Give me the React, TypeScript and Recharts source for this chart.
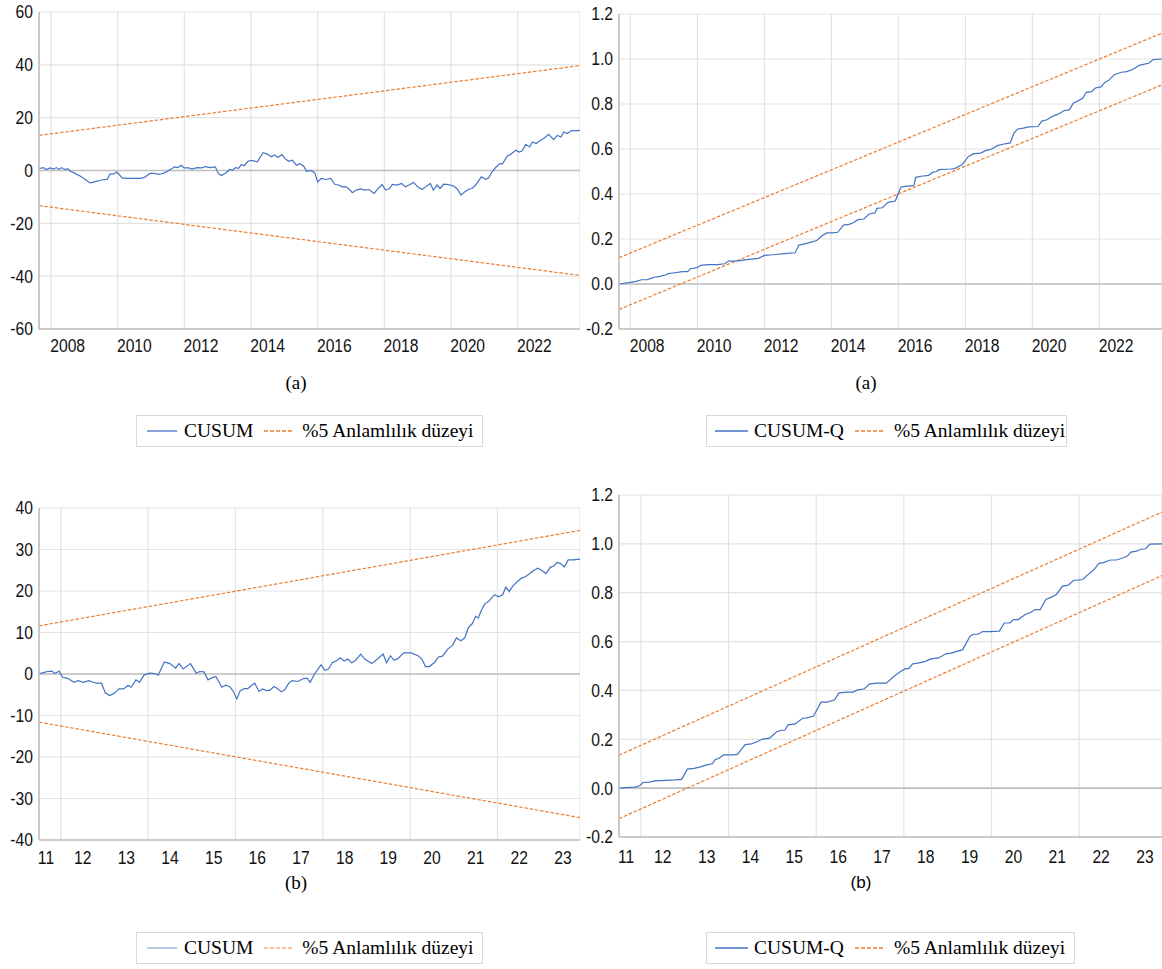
import React from 'react';
import { LineChart, Line, XAxis, YAxis, CartesianGrid, ReferenceLine, Legend } from 'recharts';

const FONT_TICK = '"Liberation Sans", Arial, sans-serif';
const FONT_SERIF = '"Liberation Serif", "Times New Roman", serif';
const BLUE = '#4472C4';
const ORANGE = '#ED7D31';

// ---------- Panel (a) left: CUSUM ----------
const TL_X = [
  2007.64, 2007.78, 2007.86, 2007.97, 2008.08, 2008.16, 2008.24, 2008.32, 2008.41, 2008.52,
  2008.58, 2008.69, 2008.86, 2009.02, 2009.17, 2009.24, 2009.38, 2009.52, 2009.69, 2009.77,
  2009.88, 2009.97, 2010.04, 2010.13, 2010.30, 2010.47, 2010.69, 2010.80, 2010.97, 2011.08,
  2011.24, 2011.41, 2011.58, 2011.71, 2011.80, 2011.91, 2011.99, 2012.13, 2012.24, 2012.38,
  2012.52, 2012.63, 2012.78, 2012.93, 2013.02, 2013.11, 2013.22, 2013.36, 2013.44, 2013.54,
  2013.63, 2013.71, 2013.80, 2013.91, 2014.02, 2014.19, 2014.36, 2014.49, 2014.61, 2014.71,
  2014.80, 2014.93, 2015.02, 2015.13, 2015.24, 2015.36, 2015.47, 2015.58, 2015.67, 2015.80,
  2015.91, 2016.00, 2016.11, 2016.24, 2016.39, 2016.52, 2016.63, 2016.74, 2016.86, 2016.97,
  2017.04, 2017.16, 2017.30, 2017.41, 2017.54, 2017.69, 2017.82, 2017.93, 2018.04, 2018.16,
  2018.24, 2018.38, 2018.52, 2018.63, 2018.74, 2018.88, 2019.00, 2019.13, 2019.24, 2019.38,
  2019.47, 2019.58, 2019.67, 2019.78, 2019.91, 2020.08, 2020.19, 2020.30, 2020.41, 2020.52,
  2020.63, 2020.74, 2020.91, 2021.04, 2021.13, 2021.24, 2021.36, 2021.47, 2021.54, 2021.69,
  2021.80, 2021.94, 2022.04, 2022.13, 2022.24, 2022.36, 2022.44, 2022.56, 2022.67, 2022.80,
  2022.93, 2023.08, 2023.19, 2023.30, 2023.38, 2023.49, 2023.63, 2023.74, 2023.87,
];
const TL_CUSUM = [
  0.75, 1.1, 0.4, 1.0, 0.5, 1.1, 0.4, 1.1, 0.4, 0.6,
  -0.3, -0.9, -2.0, -3.3, -4.7, -4.5, -4.0, -3.6, -3.3, -1.4,
  -1.3, -0.6, -1.4, -2.8, -3.0, -3.0, -3.0, -2.6, -1.1, -1.1,
  -1.5, -0.9, 0.4, 1.4, 1.1, 2.0, 1.0, 1.0, 0.5, 1.1,
  1.0, 1.5, 1.1, 1.4, -1.1, -1.9, -1.1, 0.4, 0.1, 1.1,
  0.8, 2.3, 1.8, 3.5, 3.8, 3.3, 6.7, 6.2, 5.2, 5.9,
  4.9, 6.0, 4.5, 3.5, 3.9, 2.0, 2.6, 1.6, -0.3, 0,
  -0.8, -4.3, -3.0, -3.4, -3.0, -5.3, -5.5, -6.2, -6.2, -7.4,
  -8.4, -7.4, -7.0, -7.4, -7.2, -8.7, -6.8, -5.3, -7.4, -6.8,
  -5.3, -5.5, -4.9, -6.2, -5.5, -4.5, -6.2, -7.2, -6.2, -4.9,
  -7.4, -5.5, -6.8, -5.2, -5.3, -5.9, -7.0, -9.3, -8.1, -7.2,
  -6.8, -5.5, -2.4, -3.3, -2.8, -0.3, 1.4, 2.6, 2.4, 5.5,
  6.2, 7.7, 7.0, 7.4, 9.9, 8.9, 10.8, 10.2, 11.4, 12.3,
  13.7, 11.7, 13.3, 12.7, 14.6, 14.0, 15.2, 15.0, 15.2,
];
const TL_BOUND_X = [2007.64, 2023.87];
const TL_UPPER = [13.3, 39.7];
const TL_LOWER = [-13.3, -39.7];
const TL_Y_TICKS = [-60, -40, -20, 0, 20, 40, 60];

// ---------- Panel (a) right: CUSUM-Q ----------
const TR_X = [
  2007.66, 2008.00, 2008.17, 2008.33, 2008.50, 2008.61, 2008.72, 2008.88, 2009.05, 2009.13,
  2009.33, 2009.55, 2009.71, 2009.79, 2009.99, 2010.10, 2010.32, 2010.60, 2010.82, 2010.93,
  2011.15, 2011.48, 2011.82, 2012.00, 2012.26, 2012.59, 2012.92, 2013.03, 2013.20, 2013.37,
  2013.56, 2013.70, 2013.86, 2014.03, 2014.19, 2014.36, 2014.53, 2014.64, 2014.80, 2014.97,
  2015.13, 2015.30, 2015.36, 2015.52, 2015.69, 2015.91, 2016.00, 2016.08, 2016.19, 2016.46,
  2016.52, 2016.68, 2016.90, 2017.02, 2017.13, 2017.21, 2017.40, 2017.57, 2017.68, 2017.90,
  2018.01, 2018.07, 2018.23, 2018.45, 2018.62, 2018.79, 2018.95, 2019.12, 2019.34, 2019.45,
  2019.56, 2019.73, 2019.89, 2020.17, 2020.28, 2020.44, 2020.56, 2020.78, 2020.94, 2021.11,
  2021.22, 2021.38, 2021.50, 2021.61, 2021.77, 2021.88, 2022.05, 2022.16, 2022.27, 2022.44,
  2022.66, 2022.82, 2022.99, 2023.10, 2023.19, 2023.38, 2023.49, 2023.60, 2023.87,
];
const TR_CUSUMQ = [
  0.0, 0.007, 0.012, 0.019, 0.019, 0.025, 0.03, 0.034, 0.04, 0.046,
  0.05, 0.055, 0.055, 0.068, 0.073, 0.083, 0.086, 0.086, 0.09, 0.102,
  0.102, 0.108, 0.114, 0.127, 0.13, 0.135, 0.139, 0.173, 0.178, 0.185,
  0.193, 0.212, 0.227, 0.227, 0.23, 0.262, 0.265, 0.271, 0.286, 0.289,
  0.311, 0.316, 0.336, 0.339, 0.363, 0.369, 0.404, 0.431, 0.434, 0.437,
  0.474, 0.479, 0.483, 0.496, 0.50, 0.508, 0.51, 0.511, 0.513, 0.53,
  0.55, 0.564, 0.578, 0.582, 0.594, 0.60, 0.615, 0.621, 0.627, 0.671,
  0.689, 0.693, 0.698, 0.70, 0.724, 0.73, 0.742, 0.756, 0.77, 0.775,
  0.804, 0.815, 0.825, 0.852, 0.855, 0.871, 0.876, 0.896, 0.904, 0.93,
  0.941, 0.944, 0.953, 0.963, 0.972, 0.978, 0.982, 0.997, 1.0,
];
const TR_BOUND_X = [2007.66, 2023.87];
const TR_UPPER = [0.117, 1.115];
const TR_LOWER = [-0.113, 0.885];
const Q_Y_TICKS = [-0.2, 0, 0.2, 0.4, 0.6, 0.8, 1.0, 1.2];

const TOP_X_LABELS = [2008.5, 2010.5, 2012.5, 2014.5, 2016.5, 2018.5, 2020.5, 2022.5];
const TOP_X_GRID = [2008, 2010, 2012, 2014, 2016, 2018, 2020, 2022];

// ---------- Panel (b) left: CUSUM ----------
const BL_X = [
  2011.50, 2011.62, 2011.70, 2011.79, 2011.87, 2011.96, 2012.04, 2012.17, 2012.30, 2012.40,
  2012.51, 2012.64, 2012.74, 2012.82, 2012.93, 2013.02, 2013.12, 2013.23, 2013.33, 2013.44,
  2013.54, 2013.61, 2013.72, 2013.80, 2013.91, 2014.04, 2014.15, 2014.23, 2014.37, 2014.50,
  2014.63, 2014.71, 2014.80, 2014.97, 2015.10, 2015.18, 2015.28, 2015.37, 2015.44, 2015.55,
  2015.69, 2015.77, 2015.86, 2015.94, 2016.03, 2016.11, 2016.20, 2016.28, 2016.44, 2016.54,
  2016.62, 2016.71, 2016.79, 2016.88, 2016.96, 2017.05, 2017.13, 2017.22, 2017.30, 2017.43,
  2017.56, 2017.64, 2017.71, 2017.81, 2017.96, 2018.05, 2018.13, 2018.22, 2018.30, 2018.40,
  2018.49, 2018.57, 2018.66, 2018.74, 2018.87, 2018.96, 2019.12, 2019.25, 2019.38, 2019.46,
  2019.55, 2019.63, 2019.72, 2019.85, 2020.02, 2020.18, 2020.27, 2020.35, 2020.44, 2020.57,
  2020.65, 2020.74, 2020.86, 2020.97, 2021.06, 2021.16, 2021.25, 2021.33, 2021.42, 2021.50,
  2021.56, 2021.63, 2021.71, 2021.80, 2021.93, 2022.03, 2022.12, 2022.19, 2022.27, 2022.36,
  2022.44, 2022.55, 2022.65, 2022.74, 2022.82, 2022.92, 2023.01, 2023.11, 2023.21, 2023.30,
  2023.36, 2023.45, 2023.53, 2023.62, 2023.74, 2023.89,
];
const BL_CUSUM = [
  0, 0.4, 0.6, 0.7, 0.1, 0.7, -0.8, -1.1, -2.0, -1.6,
  -2.0, -1.6, -2.0, -2.2, -2.2, -4.6, -5.2, -4.6, -3.6, -3.6,
  -2.7, -3.2, -1.4, -2.0, -0.2, 0.2, 0.1, -0.3, 2.9, 2.5,
  1.4, 2.5, 1.2, 2.5, 0.2, 0.6, 0.5, -1.4, -1.0, -0.6,
  -3.2, -2.7, -3.0, -4.0, -6.0, -4.0, -3.5, -3.5, -2.2, -4.2,
  -3.6, -4.0, -3.9, -3.0, -3.5, -4.3, -3.8, -2.2, -1.6, -1.8,
  -1.1, -1.0, -2.0, 0, 2.2, 0.9, 1.2, 2.8, 3.1, 3.9,
  3.1, 3.6, 2.7, 3.2, 4.8, 3.6, 2.5, 3.6, 4.8, 2.7,
  4.4, 3.3, 3.7, 5.1, 5.1, 4.4, 3.6, 1.8, 1.8, 2.9,
  4.1, 4.3, 6.0, 6.9, 8.7, 8.0, 8.7, 11.1, 12.1, 13.9,
  13.5, 15.3, 16.9, 17.5, 19.1, 18.6, 19.1, 20.9, 19.9, 21.3,
  22.1, 23.1, 23.5, 24.2, 24.9, 25.5, 25.0, 24.2, 25.7, 26.1,
  26.9, 26.6, 25.8, 27.5, 27.5, 27.7,
];
const BL_BOUND_X = [2011.5, 2023.89];
const BL_UPPER = [11.6, 34.6];
const BL_LOWER = [-11.6, -34.6];
const BL_Y_TICKS = [-40, -30, -20, -10, 0, 10, 20, 30, 40];

// ---------- Panel (b) right: CUSUM-Q ----------
const BR_X = [
  2011.50, 2011.73, 2011.86, 2011.97, 2012.05, 2012.19, 2012.32, 2012.57, 2012.79, 2012.93,
  2013.06, 2013.21, 2013.34, 2013.50, 2013.63, 2013.69, 2013.78, 2013.89, 2014.10, 2014.20,
  2014.38, 2014.52, 2014.65, 2014.77, 2014.94, 2015.09, 2015.20, 2015.28, 2015.36, 2015.52,
  2015.69, 2015.79, 2015.94, 2016.11, 2016.25, 2016.42, 2016.52, 2016.70, 2016.84, 2016.93,
  2017.10, 2017.22, 2017.39, 2017.60, 2017.77, 2017.90, 2018.03, 2018.11, 2018.20, 2018.32,
  2018.49, 2018.62, 2018.79, 2018.96, 2019.08, 2019.21, 2019.34, 2019.51, 2019.59, 2019.69,
  2019.80, 2019.97, 2020.18, 2020.29, 2020.42, 2020.50, 2020.61, 2020.77, 2020.90, 2020.99,
  2021.11, 2021.24, 2021.37, 2021.48, 2021.62, 2021.75, 2021.87, 2022.08, 2022.21, 2022.34,
  2022.45, 2022.55, 2022.72, 2022.85, 2023.01, 2023.10, 2023.18, 2023.31, 2023.39, 2023.52,
  2023.61, 2023.89,
];
const BR_CUSUMQ = [
  0, 0.003, 0.004, 0.01, 0.023, 0.025, 0.03, 0.032, 0.034, 0.036,
  0.078, 0.081, 0.086, 0.095, 0.10, 0.116, 0.122, 0.136, 0.136, 0.138,
  0.178, 0.181, 0.19, 0.201, 0.205, 0.23, 0.237, 0.237, 0.259, 0.263,
  0.286, 0.288, 0.295, 0.352, 0.352, 0.362, 0.39, 0.393, 0.393, 0.401,
  0.407, 0.427, 0.43, 0.43, 0.457, 0.474, 0.489, 0.489, 0.509, 0.512,
  0.519, 0.529, 0.533, 0.55, 0.553, 0.56, 0.566, 0.622, 0.63, 0.63,
  0.641, 0.641, 0.643, 0.676, 0.676, 0.69, 0.69, 0.711, 0.72, 0.731,
  0.731, 0.772, 0.782, 0.793, 0.827, 0.831, 0.85, 0.854, 0.875, 0.895,
  0.92, 0.923, 0.934, 0.934, 0.943, 0.95, 0.966, 0.97, 0.977, 0.98,
  0.999, 1.0,
];
const BR_BOUND_X = [2011.5, 2023.89];
const BR_UPPER = [0.135, 1.13];
const BR_LOWER = [-0.125, 0.87];

const BOTTOM_X_LABELS = [2011.66, 2012.5, 2013.5, 2014.5, 2015.5, 2016.5, 2017.5, 2018.5, 2019.5, 2020.5, 2021.5, 2022.5, 2023.5];
const BOTTOM_X_GRID = [2012, 2014, 2016, 2018, 2020, 2022];

const BOUND_LABEL = '%5 Anlamlılık düzeyi';

const toPoints = (xs: number[], ys: number[]) => xs.map((x, i) => ({ x, v: ys[i] }));

const TICK_SCALE = 0.87;

function XTick(props: any) {
  const { x, y, payload, tickFormatter } = props;
  const label = tickFormatter ? tickFormatter(payload.value) : String(payload.value);
  return (
    <g transform={`translate(${x},${y})`}>
      <text transform={`scale(${TICK_SCALE},1)`} x={0} y={0} dy="0.72em" textAnchor="middle"
        fill="#111" fontSize={18} fontFamily={FONT_TICK}>{label}</text>
    </g>
  );
}

function YTick(props: any) {
  const { x, y, payload, tickFormatter } = props;
  const label = tickFormatter ? tickFormatter(payload.value) : String(payload.value);
  return (
    <g transform={`translate(${x},${y})`}>
      <text transform={`scale(${TICK_SCALE},1)`} x={0} y={0} dy="0.36em" textAnchor="end"
        fill="#111" fontSize={18} fontFamily={FONT_TICK}>{label}</text>
    </g>
  );
}

type LegendSpec = {
  left: number; top: number; width: number; name: string;
  lineW: number; gap1: number; gap2: number; gap3: number; padL: number;
  blue: string; orange: string;
};

function LegendBox({ spec }: { spec: LegendSpec }) {
  return (
    <div style={{
      width: spec.width, height: 32, boxSizing: 'border-box', border: '1px solid #d9d9d9', background: '#fff',
      display: 'flex', alignItems: 'center', paddingLeft: spec.padL, fontFamily: FONT_SERIF, fontSize: 19.5,
      color: '#000', whiteSpace: 'nowrap',
    }}>
      <svg width={spec.lineW} height={4} style={{ display: 'block' }}>
        <line x1={0} y1={2} x2={spec.lineW} y2={2} stroke={spec.blue} strokeWidth={1.3} />
      </svg>
      <span style={{ marginLeft: spec.gap1 }}>{spec.name}</span>
      <svg width={30} height={4} style={{ display: 'block', marginLeft: spec.gap2 }}>
        <line x1={0} y1={2} x2={30} y2={2} stroke={spec.orange} strokeWidth={1.3} strokeDasharray="4 2" />
      </svg>
      <span style={{ marginLeft: spec.gap3 }}>{BOUND_LABEL}</span>
    </div>
  );
}

type PanelProps = {
  left: number; top: number; width: number; height: number; mt: number; mb: number;
  xDomain: [number, number]; xLabels: number[]; xGrid: number[]; xFmt: (v: number) => string; xtm: number;
  yDomain: [number, number]; yTicks: number[]; yFmt: (v: number) => string;
  sx: number[]; sy: number[]; bx: number[]; bu: number[]; bl: number[];
  name: string; legend: LegendSpec;
};

function Panel(p: PanelProps) {
  const series = toPoints(p.sx, p.sy);
  const upper = toPoints(p.bx, p.bu);
  const lower = toPoints(p.bx, p.bl);
  return (
    <div style={{ position: 'absolute', left: p.left, top: p.top }}>
      <LineChart width={p.width} height={p.height} margin={{ top: p.mt, right: 0, bottom: p.mb, left: 0 }}>
        <CartesianGrid xAxisId="grid" stroke="#e3e3e3" strokeWidth={1.2} />
        <XAxis dataKey="x" type="number" domain={p.xDomain} ticks={p.xLabels} tickFormatter={p.xFmt}
          allowDataOverflow interval={0} height={30} tickLine={false} tickSize={0} tickMargin={p.xtm}
          axisLine={{ stroke: '#bfbfbf', strokeWidth: 1.6 }} tick={<XTick tickFormatter={p.xFmt} />} />
        <XAxis xAxisId="grid" dataKey="x" type="number" domain={p.xDomain} ticks={p.xGrid}
          allowDataOverflow interval={0} hide />
        <YAxis type="number" domain={p.yDomain} ticks={p.yTicks} tickFormatter={p.yFmt} allowDataOverflow
          interval={0} width={39} tickLine={false} tickSize={0} tickMargin={6}
          axisLine={{ stroke: '#bfbfbf', strokeWidth: 1.6 }} tick={<YTick tickFormatter={p.yFmt} />} />
        <ReferenceLine y={0} stroke="#bfbfbf" strokeWidth={1.6} />
        <Line data={upper} dataKey="v" name={BOUND_LABEL} stroke={ORANGE} strokeWidth={1.2}
          strokeDasharray="3.5 1.8" dot={false} isAnimationActive={false} />
        <Line data={lower} dataKey="v" name="lower" legendType="none" stroke={ORANGE} strokeWidth={1.2}
          strokeDasharray="3.5 1.8" dot={false} isAnimationActive={false} />
        <Line data={series} dataKey="v" name={p.name} stroke={BLUE} strokeWidth={1.2}
          dot={false} isAnimationActive={false} />
        <Legend layout="vertical" align="center" verticalAlign="middle"
          wrapperStyle={{ left: p.legend.left, top: p.legend.top, width: p.legend.width, height: 32 }}
          content={() => <LegendBox spec={p.legend} />} />
      </LineChart>
    </div>
  );
}

const fmtYear = (v: number) => String(Math.floor(v));
const fmtShortYear = (v: number) => String(Math.floor(v) % 100);
const fmtInt = (v: number) => String(v);
const fmt1 = (v: number) => v.toFixed(1);

const titleStyle = (left: number, top: number, sans: boolean): React.CSSProperties => ({
  position: 'absolute', left, top, width: 40, textAlign: 'center',
  fontFamily: sans ? FONT_TICK : FONT_SERIF, fontSize: sans ? 17 : 19, lineHeight: '22px', color: '#000',
});

export default function App() {
  return (
    <div style={{ position: 'absolute', left: 0, top: 0, width: 1162, height: 969, background: '#fff', overflow: 'hidden' }}>
      <Panel left={0} top={0} width={580} height={460} mt={12} mb={101}
        xDomain={[2007.64, 2023.87]} xLabels={TOP_X_LABELS} xGrid={TOP_X_GRID} xFmt={fmtYear} xtm={10}
        yDomain={[-60, 60]} yTicks={TL_Y_TICKS} yFmt={fmtInt}
        sx={TL_X} sy={TL_CUSUM} bx={TL_BOUND_X} bu={TL_UPPER} bl={TL_LOWER} name="CUSUM"
        legend={{ left: 136, top: 415, width: 347, name: 'CUSUM', lineW: 30, padL: 10, gap1: 7, gap2: 11, gap3: 8, blue: BLUE, orange: ORANGE }} />
      <Panel left={580} top={0} width={582} height={460} mt={14} mb={101}
        xDomain={[2007.66, 2023.87]} xLabels={TOP_X_LABELS} xGrid={TOP_X_GRID} xFmt={fmtYear} xtm={10}
        yDomain={[-0.2, 1.2]} yTicks={Q_Y_TICKS} yFmt={fmt1}
        sx={TR_X} sy={TR_CUSUMQ} bx={TR_BOUND_X} bu={TR_UPPER} bl={TR_LOWER} name="CUSUM-Q"
        legend={{ left: 126, top: 415, width: 361, name: 'CUSUM-Q', lineW: 33, padL: 8, gap1: 6, gap2: 11, gap3: 9, blue: BLUE, orange: ORANGE }} />
      <Panel left={0} top={496} width={580} height={470} mt={12} mb={96}
        xDomain={[2011.5, 2023.89]} xLabels={BOTTOM_X_LABELS} xGrid={BOTTOM_X_GRID} xFmt={fmtShortYear} xtm={11}
        yDomain={[-40, 40]} yTicks={BL_Y_TICKS} yFmt={fmtInt}
        sx={BL_X} sy={BL_CUSUM} bx={BL_BOUND_X} bu={BL_UPPER} bl={BL_LOWER} name="CUSUM"
        legend={{ left: 136, top: 436, width: 347, name: 'CUSUM', lineW: 30, padL: 10, gap1: 7, gap2: 11, gap3: 8, blue: '#8FAADC', orange: '#F4B183' }} />
      <Panel left={580} top={483} width={582} height={486} mt={12} mb={102}
        xDomain={[2011.5, 2023.89]} xLabels={BOTTOM_X_LABELS} xGrid={BOTTOM_X_GRID} xFmt={fmtShortYear} xtm={13}
        yDomain={[-0.2, 1.2]} yTicks={Q_Y_TICKS} yFmt={fmt1}
        sx={BR_X} sy={BR_CUSUMQ} bx={BR_BOUND_X} bu={BR_UPPER} bl={BR_LOWER} name="CUSUM-Q"
        legend={{ left: 126, top: 449, width: 369, name: 'CUSUM-Q', lineW: 33, padL: 8, gap1: 6, gap2: 11, gap3: 9, blue: BLUE, orange: ORANGE }} />
      <div style={titleStyle(276, 372, false)}>(a)</div>
      <div style={titleStyle(846, 372, false)}>(a)</div>
      <div style={titleStyle(276, 872, false)}>(b)</div>
      <div style={titleStyle(841, 872, true)}>(b)</div>
    </div>
  );
}
